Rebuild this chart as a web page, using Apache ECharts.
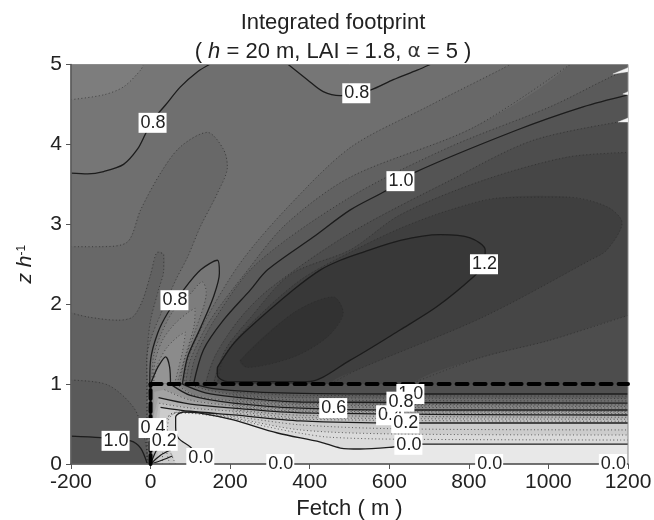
<!DOCTYPE html>
<html><head><meta charset="utf-8">
<style>html,body{margin:0;padding:0;background:#fff}#c{width:654px;height:520px;filter:blur(.4px)}</style>
<script src="https://cdn.jsdelivr.net/npm/echarts@6/dist/echarts.min.js"></script>
</head><body><div id="c"></div>
<script>
const xTicks = [-200,0,200,400,600,800,1000,1200];
const yTicks = [0,1,2,3,4,5];
// ---- contours above the canopy: [fetch, z/h]
const c075Corner = [[-200,4.56],[-118,4.62],[-68,4.72],[-25,4.93],[-18,5]];
const c080Left = [[-200,3.64],[-158,3.63],[-118,3.66],[-68,3.75],[-33,3.94],[-13,4.13],[5,4.3],[37,4.49],[75,4.72],[118,4.91],[148,5]];
const c080Top = [[346,5],[394,4.81],[434,4.66],[477,4.61],[552,4.68],[610,4.81],[670,4.93],[703,5]];
const c085Island = [[-200,2.72],[-125,2.72],[-58,2.78],[-25,3.18],[25,3.64],[75,3.97],[143,4.15],[183,3.94],[193,3.72],[168,3.39],[125,2.97],[93,2.59],[63,2.30],[25,1.87],[0,1.56],[-10,1.30],[-8,1.0],[-8,0]];
const c090Left = [[-200,1.89],[-158,1.84],[-83,1.80],[-45,1.84],[-20,2.05],[0,2.37],[18,2.65],[33,2.62],[33,2.43],[20,2.18],[0,1.80],[-8,1.43],[-10,0.99],[-10,0]];
const c095Left = [[-200,1.05],[-108,0.99],[-43,0.71],[-18,0.39],[-5,0]];
const c100Left = [[-200,0.35],[-125,0.33],[-50,0.29],[-25,0.20],[-8,0]];
const c085Right = [[84,1],[93,1.3],[138,1.8],[226,2.52],[344,3.21],[502,3.96],[695,4.47],[885,4.95],[903,5]];
const c090Right = [[88,1],[100,1.3],[150,1.8],[240,2.4],[340,3.0],[502,3.59],[811,4.21],[1054,5]];
const c095Right = [[98,1],[110,1.3],[160,1.8],[265,2.5],[502,3.34],[753,3.97],[1004,4.47],[1155,4.84],[1200,4.93]];
const c100Right = [[108,1],[133,1.43],[183,1.8],[251,2.18],[294,2.43],[409,2.84],[502,3.18],[595,3.43],[660,3.64],[921,4.18],[1087,4.47],[1200,4.62]];
const c105Right = [[138,1],[163,1.36],[226,1.83],[301,2.2],[502,2.89],[753,3.55],[961,4.05],[1200,4.3]];
const c110Right = [[158,1],[188,1.43],[251,1.83],[351,2.37],[502,2.68],[628,3.12],[836,3.55],[1047,3.84],[1200,3.9]];
const c110Lower = [[1200,1.86],[1004,1.55],[828,1.33],[653,1]];
const c115Loop = [[168,1],[186,1.36],[251,1.75],[376,2.3],[502,2.65],[628,2.95],[753,3.18],[879,3.33],[1047,3.34],[1147,3.22],[1185,3.02],[1147,2.68],[1104,2.55],[836,1.84],[520,1.18],[452,1]];
const c120Loop = [[168,1.21],[206,1.49],[243,1.68],[359,2.18],[427,2.43],[477,2.55],[527,2.64],[628,2.8],[728,2.87],[803,2.83],[841,2.68],[838,2.5],[811,2.34],[720,1.97],[628,1.68],[502,1.3],[394,1.03],[193,1.03],[168,1.11],[168,1.21]];
const c125Loop = [[226,1.3],[359,1.89],[459,2.09],[484,1.89],[444,1.59],[359,1.34],[243,1.21],[226,1.3]];
// ---- lobe just above the canopy edge
const c080Lobe = [[-2,1],[0,1.3],[18,1.64],[43,1.89],[83,2.18],[126,2.43],[168,2.55],[173,2.39],[158,2.09],[126,1.71],[93,1.34],[80,1]];
const c075Lobe = [[3,1],[8,1.36],[25,1.61],[55,1.9],[100,2.13],[130,2.28],[140,2.15],[113,1.68],[85,1.3],[73,1]];
const c070Lobe = [[5,1],[12,1.3],[30,1.55],[60,1.75],[95,1.9],[112,1.95],[110,1.75],[90,1.4],[66,1]];
const c065Lobe = [[7,1],[18,1.25],[40,1.45],[70,1.6],[88,1.65],[80,1.4],[60,1]];
const c060Lobe = [[0,1],[8,1.1],[18,1.21],[38,1.34],[48,1.21],[50,1]];
// ---- contours inside the canopy
const c100Canopy = [[108,1],[163,.94],[326,.89],[628,.876],[1200,.876]];
const c095Canopy = [[208,.90],[377,.86],[1200,.85]];
const c090Canopy = [[95,1],[140,.93],[208,.87],[350,.83],[1200,.82]];
const c085Canopy = [[208,.855],[377,.80],[1200,.79]];
const c080Canopy = [[80,1],[138,.89],[208,.84],[377,.776],[1200,.763]];
const c075Canopy = [[208,.815],[377,.76],[1200,.74]];
const c070Canopy = [[65,1],[110,.86],[208,.79],[377,.74],[1200,.72]];
const c065Canopy = [[208,.775],[377,.72],[1200,.70]];
const c060Canopy = [[50,1],[100,.86],[208,.763],[377,.70],[628,.676],[1200,.676]];
const c055Canopy = [[208,.745],[377,.68],[1200,.66]];
const c050Canopy = [[3,0],[10,.9],[35,.93],[100,.80],[208,.73],[377,.66],[1200,.65]];
const c045Canopy = [[208,.715],[377,.65],[1200,.63]];
const c040Canopy = [[5,0],[8,.6],[20,.83],[100,.75],[208,.70],[377,.64],[1200,.613]];
const c035Canopy = [[208,.68],[377,.61],[1200,.585]];
const c030Canopy = [[10,0],[12,.5],[22,.76],[100,.70],[208,.66],[377,.58],[1200,.56]];
const c025Canopy = [[208,.64],[377,.56],[1200,.535]];
const c020Canopy = [[18,0],[20,.4],[25,.71],[100,.66],[208,.615],[377,.54],[628,.513],[1200,.513]];
const c015Canopy = [[30,0],[30,.45],[55,.63],[100,.64],[208,.595],[377,.49],[628,.44],[1200,.426]];
const c010Canopy = [[63,0],[42,.30],[45,.551],[70,.651],[113,.638],[208,.576],[377,.426],[628,.375],[1200,.363]];
const c005Canopy = [[48,0],[36,.3],[40,.55],[60,.645],[208,.565],[290,.47],[377,.385],[450,.335],[628,.31],[1200,.30]];
const c000Canopy = [[138,0],[100,.213],[70,.325],[63,.463],[63,.588],[83,.651],[125,.638],[208,.551],[319,.388],[427,.275],[477,.20],[527,.188],[610,.213],[683,.25],[1200,.25]];
const sourceFan1 = [[0,0],[25,.11],[50,.175]];
const sourceFan2 = [[0,0],[18,.2],[38,.3]];
const sourceFan3 = [[0,0],[30,.05],[55,.1]];
const canopyTop = [[0,1],[1200,1]];
const canopySide = [[0,0],[0,1]];
const sliver1 = [[1162,4.88],[1200,4.96],[1200,4.91]];
const sliver2 = [[1187,4.63],[1200,4.66],[1200,4.62]];
const sliver3 = [[1175,4.28],[1200,4.33],[1200,4.28]];
// ---- contour labels: fetch, z/h, text
const labelRows = [[5,4.27,'0.8'],[517,4.64,'0.8'],[628,3.54,'1.0'],[838,2.5,'1.2'],[60,2.05,'0.8'],[459,.70,'0.6'],[-88,.29,'1.0'],[5,.45,'0.4'],[33,.29,'0.2'],[125,.075,'0.0'],[326,0,'0.0'],[851,0,'0.0'],[1162,0,'0.0'],[653,.876,'1.0'],[602,.61,'0.4'],[628,.78,'0.8'],[640,.51,'0.2'],[648,.24,'0.0']];

const grey = v => { const g = Math.round(225 - 138*v); return `rgb(${g},${g},${g})`; };
// the closing points lie outside the frame, so rounding the outlines never shows at its corners
const R5 = [1320,5.5], R0 = [1320,.5], RB = [1320,-.3];
// painted in order, each one over the previous: level, outline, rounded
const fills = [
  [.825,[[-200,0],[-200,5],[1200,5],[1200,0]],0],
  [.775,[[-320,3.64],...c080Left,[170,5.5],[-320,5.5]],.3],
  [.725,[[-320,4.5],...c075Corner,[-10,5.5],[-320,5.5]],.3],
  [.775,[[320,5.5],...c080Top,[730,5.5]],.3],
  [.875,[[-320,-.3],[-320,2.72],...c085Island,[-8,-.3]],.3],
  [.925,[[-320,-.3],[-320,1.92],...c090Left,[-10,-.3]],.3],
  [.975,[[-320,-.3],[-320,1.05],...c095Left,[-5,-.3]],.3],
  [1.03,[[-320,-.3],[-320,.35],...c100Left,[-8,-.3]],.3],
  [.875,[[80,.5],...c085Right,[915,5.5],R5,R0],.3],
  [.925,[[85,.5],...c090Right,[1070,5.5],R5,R0],.3],
  [.975,[[95,.5],...c095Right,[1320,5.2],R5,R0],.3],
  [1.025,[[105,.5],...c100Right,[1320,4.75],R0],.3],
  [1.075,[[135,.5],...c105Right,[1320,4.4],R0],.3],
  [1.125,[[155,.5],...c110Right,[1320,3.95],[1320,1.95],...c110Lower,[600,.5]],.3],
  [1.175,[[168,.5],...c115Loop,[470,.5]],.3],
  [1.225,c120Loop.slice(0,-1),.3],
  [1.27,c125Loop.slice(0,-1),.3],
  [.775,[[-2,.7],...c080Lobe,[80,.7]],.3],
  [.725,[[3,.7],...c075Lobe,[70,.7]],.3],
  [.675,[[5,.7],...c070Lobe,[60,.7]],.3],
  [.625,[[7,.7],...c065Lobe,[55,.7]],.3],
  [.56,[[0,.7],...c060Lobe,[50,.7]],.3],
  [1.05,[[0,0],[0,1],[1200,1],[1200,0]],0],
  [.95,[[0,0],...c100Canopy,[1200,0]],0],
  [.85,[[0,0],[0,1],...c090Canopy,[1200,0]],0],
  [.75,[[0,0],[0,1],...c080Canopy,[1200,0]],0],
  [.65,[[0,0],[0,1],...c070Canopy,[1200,0]],0],
  [.55,[[0,0],[0,1],...c060Canopy,[1200,0]],0],
  [.45,[...c050Canopy,[1200,0]],0],
  [.35,[...c040Canopy,[1200,0]],0],
  [.25,[...c030Canopy,[1200,0]],0],
  [.15,[...c020Canopy,[1200,0]],0],
  [.05,[[63,-.3],...c010Canopy,[1320,.363],RB],.3],
  [-.05,[[138,-.3],...c000Canopy,[1320,.25],RB],.3]
];
const solid = [c080Left,c080Top,c100Left,c100Right,c120Loop,c080Lobe,c060Lobe,c100Canopy,c080Canopy,c060Canopy,
  c040Canopy.slice(2),c020Canopy.slice(2),c000Canopy,sourceFan1,sourceFan2,sourceFan3];
const dotted = [c075Corner,c085Island,c090Left,c095Left,c085Right,c090Right,c095Right,c105Right,c110Right,c110Lower,c115Loop,c125Loop,
  c075Lobe,c070Lobe,c065Lobe,c095Canopy,c090Canopy,c085Canopy,c075Canopy,c070Canopy,c065Canopy,c055Canopy,c050Canopy.slice(2),c045Canopy,c035Canopy,c030Canopy.slice(2),c025Canopy,c015Canopy,c010Canopy,c005Canopy];

const polySeries = (pts,fill,z,smooth) => ({
  type:'custom',coordinateSystem:'cartesian2d',z,silent:true,clip:true,animation:false,data:pts,
  renderItem:(p,api)=> p.dataIndex!==0 ? null : {type:'polygon',
    shape:{points:pts.map(q=>api.coord(q)),smooth:smooth||0},style:{fill,stroke:fill,lineWidth:.4}}
});
const lineSeries = (pts,ls,z) => ({type:'line',data:pts,showSymbol:false,smooth:.3,silent:true,z,animation:false,lineStyle:ls});
const series = [
  ...fills.map(f=>polySeries(f[1],grey(f[0]),1,f[2])),
  ...dotted.map(d=>lineSeries(d,{color:'#2a2a2a',width:1,type:[1,2.5],opacity:.7},2)),
  ...solid.map(d=>lineSeries(d,{color:'#1c1c1c',width:1.3},2)),
  ...[sliver1,sliver2,sliver3].map(s=>polySeries(s,'#f4f4f4',3,0)),
  {type:'line',data:canopyTop,showSymbol:false,silent:true,z:4,animation:false,lineStyle:{color:'#000',width:4,type:[11,7],cap:'round'}},
  {type:'line',data:canopySide,showSymbol:false,silent:true,z:4,animation:false,lineStyle:{color:'#000',width:4,type:[9,4],cap:'round'}},
  {type:'scatter',z:6,symbolSize:0,silent:true,animation:false,clip:false,data:labelRows,itemStyle:{opacity:1},
   label:{show:true,position:'inside',formatter:p=>p.data[2],color:'#222',fontFamily:'Liberation Sans',fontSize:18,opacity:1,
     backgroundColor:'#fff',padding:[2,1,0,2]}}
];
const FF='Liberation Sans';
const chart = echarts.init(document.getElementById('c'),null,{renderer:'canvas'});
chart.setOption({
  animation:false,backgroundColor:'#fff',
  title:{left:328,top:3,textAlign:'center',
    text:'Integrated footprint\n( {i|h} = 20 m, LAI = 1.8, {g|α} = 5 )',
    textStyle:{fontFamily:FF,fontWeight:'normal',fontSize:22,color:'#222',lineHeight:29,
      rich:{i:{fontFamily:FF,fontStyle:'italic',fontSize:22,color:'#222'},g:{fontFamily:'DejaVu Sans',fontSize:20,color:'#333'}}}},
  grid:{left:71,right:26,top:64.5,bottom:56,show:true,borderColor:'#8c8c8c',borderWidth:1,backgroundColor:'transparent',z:3,outerBoundsMode:'none'},
  xAxis:{type:'value',min:xTicks[0],max:xTicks[xTicks.length-1],interval:200,z:3,
    name:'Fetch ( m )',nameLocation:'middle',nameGap:33,nameTextStyle:{fontFamily:FF,fontSize:22,color:'#222'},
    axisLine:{onZero:false,lineStyle:{color:'#555',width:1.5}},axisTick:{length:5,lineStyle:{color:'#555'}},
    axisLabel:{fontFamily:FF,fontSize:21,color:'#222',margin:8,showMinLabel:true,showMaxLabel:true,hideOverlap:false,formatter:v=>String(v)},splitLine:{show:false}},
  yAxis:{type:'value',min:yTicks[0],max:yTicks[yTicks.length-1],interval:1,z:3,
    name:'{i|z h}{s|-1}',nameLocation:'middle',nameRotate:90,nameGap:35,
    nameTextStyle:{fontFamily:FF,fontSize:21,color:'#222',rich:{i:{fontFamily:FF,fontStyle:'italic',fontSize:21,color:'#222'},s:{fontFamily:FF,fontSize:12,color:'#222',padding:[0,0,8,0]}}},
    axisLine:{show:true,onZero:false,lineStyle:{color:'#555',width:1.5}},axisTick:{show:true,length:5,lineStyle:{color:'#555'}},
    axisLabel:{fontFamily:FF,fontSize:21,color:'#222',margin:9},splitLine:{show:false}},
  series
});
</script></body></html>
